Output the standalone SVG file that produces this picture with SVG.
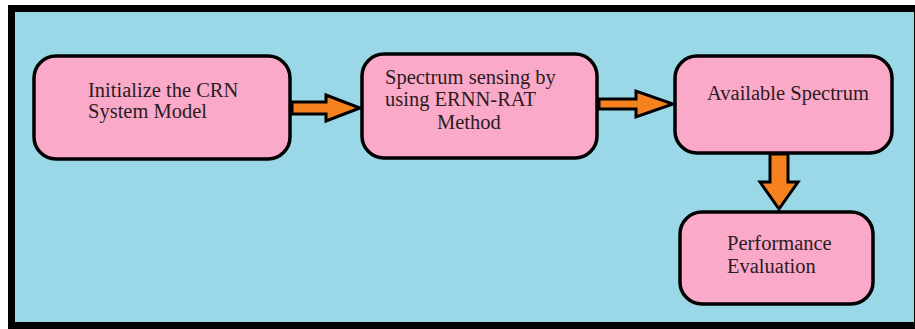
<svg xmlns="http://www.w3.org/2000/svg" width="915" height="329" viewBox="0 0 915 329">
<style>
.node{fill:#FBA9C8;stroke:#000;stroke-width:3.5}
.t{font-family:"Liberation Serif","Times New Roman",serif;font-size:20.5px;fill:#2b1c22}
.arr{fill:#F5821F;stroke:#000;stroke-width:3;stroke-linejoin:miter}
</style>
<rect x="11.5" y="8.5" width="906" height="317" fill="#9AD8E8" stroke="#000" stroke-width="7"/>
<g id="connectors">
<polygon class="arr" points="292,102 326,102 326,95 360,108 326,121 326,114 292,114"/>
<polygon class="arr" points="599,99 636,99 636,91 673,104 636,117 636,109 599,109"/>
<polygon class="arr" points="770,154 788,154 788,182 798,182 779,209 760,182 770,182"/>
</g>
<g id="n1">
<rect class="node" x="34" y="56" width="256" height="103" rx="22"/>
<text class="t" x="88" y="97">Initialize the CRN</text>
<text class="t" x="88" y="118">System Model</text>
</g>
<g id="n2">
<rect class="node" x="362" y="54" width="235" height="104" rx="22"/>
<text class="t" x="385" y="84">Spectrum sensing by</text>
<text class="t" x="385" y="106">using ERNN-RAT</text>
<text class="t" x="437" y="129">Method</text>
</g>
<g id="n3">
<rect class="node" x="675" y="56" width="217" height="97" rx="22"/>
<text class="t" x="707" y="100">Available Spectrum</text>
</g>
<g id="n4">
<rect class="node" x="680" y="212" width="193" height="92" rx="22"/>
<text class="t" x="727" y="250">Performance</text>
<text class="t" x="727" y="273">Evaluation</text>
</g>
</svg>
